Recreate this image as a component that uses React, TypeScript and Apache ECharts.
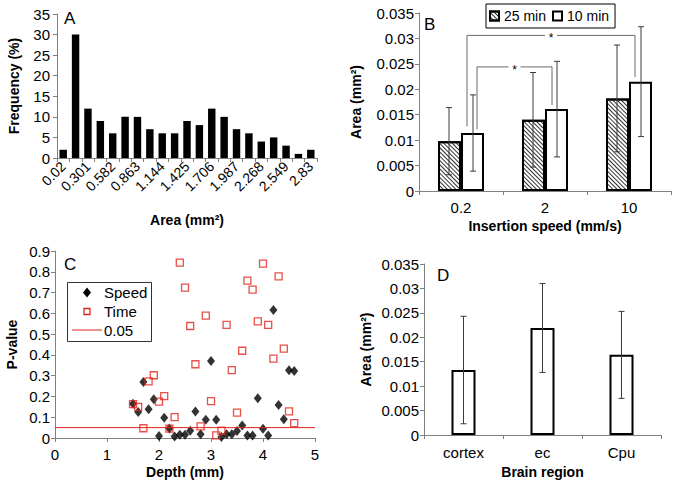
import React, { useEffect, useRef } from "react";
import * as echarts from "echarts";

// ---------- Panel A: histogram ----------
const areaBins = ["0.02", "0.161", "0.301", "0.442", "0.582", "0.723", "0.863", "1.004", "1.144", "1.285", "1.425", "1.566", "1.706", "1.847", "1.987", "2.128", "2.268", "2.409", "2.549", "2.69", "2.83"];
const frequency = [2, 30, 12, 9, 6, 10, 10, 7, 6, 6, 9, 8, 12, 10, 7, 6, 4, 5, 3, 1, 2];

// ---------- Panel B: insertion speed ----------
const speeds = ["0.2", "2", "10"];
const area25 = [0.0098, 0.014, 0.0182];
const err25 = [0.0066, 0.0093, 0.0105];
const area10 = [0.0114, 0.0161, 0.0215];
const err10 = [0.0075, 0.0094, 0.0108];

// ---------- Panel C: p-values vs depth ----------
const depths = [1.5, 1.6, 1.7, 1.8, 1.9, 2.0, 2.1, 2.2, 2.3, 2.4, 2.5, 2.6, 2.7, 2.8, 2.9, 3.0, 3.1, 3.2, 3.3, 3.4, 3.5, 3.6, 3.7, 3.8, 3.9, 4.0, 4.1, 4.2, 4.3, 4.4, 4.5, 4.6];
const pSpeed = [0.165, 0.125, 0.27, 0.138, 0.186, 0.01, 0.098, 0.046, 0.007, 0.016, 0.016, 0.035, 0.128, 0.018, 0.088, 0.37, 0.088, 0.005, 0.018, 0.018, 0.034, 0.06, 0.012, 0.012, 0.191, 0.045, 0.012, 0.616, 0.159, 0.09, 0.326, 0.322];
const pTime = [0.163, 0.15, 0.047, 0.273, 0.302, 0.175, 0.202, 0.045, 0.1, 0.844, 0.724, 0.539, 0.355, 0.056, 0.589, 0.177, 0.013, 0.035, 0.544, 0.327, 0.122, 0.42, 0.757, 0.714, 0.561, 0.839, 0.544, 0.382, 0.778, 0.43, 0.128, 0.072];
const threshold = 0.05;
const legendC = ["Speed", "Time", "0.05"];

// ---------- Panel D: brain region ----------
const regions = ["cortex", "ec", "Cpu"];
const regionArea = [0.0133, 0.0219, 0.0164];
const regionErr = [0.011, 0.0091, 0.0089];

const FONT = "'Liberation Sans', Arial, Helvetica, sans-serif";
const AXIS_COLOR = "#808080";
const RED = "#e2231a";

const axisLine = { show: true, lineStyle: { color: AXIS_COLOR, width: 1 } };
const axisTick = { show: true, length: 4, lineStyle: { color: AXIS_COLOR, width: 1 } };
const nameStyle = { fontFamily: FONT, fontSize: 14, fontWeight: "bold", color: "#000" };
const labelStyle = { fontFamily: FONT, fontSize: 15, color: "#000" };

function errorBar(offset: number) {
  return (params: any, api: any) => {
    const x = api.value(0);
    const mean = api.value(1);
    const err = api.value(2);
    const top = api.coord([x, mean + err]);
    const bot = api.coord([x, mean - err]);
    const cx = top[0] + offset;
    const cap = 3;
    const st = { stroke: "#3a3a3a", lineWidth: 1 };
    return {
      type: "group",
      children: [
        { type: "line", shape: { x1: cx, y1: top[1], x2: cx, y2: bot[1] }, style: st },
        { type: "line", shape: { x1: cx - cap, y1: top[1], x2: cx + cap, y2: top[1] }, style: st },
        { type: "line", shape: { x1: cx - cap, y1: bot[1], x2: cx + cap, y2: bot[1] }, style: st },
      ],
    };
  };
}

export default function App() {
  const ref = useRef<HTMLDivElement>(null);
  useEffect(() => {
    document.body.style.margin = "0";
    const chart = echarts.init(ref.current!, undefined, { renderer: "svg" });
    const hatch = {
      symbol: "rect",
      symbolSize: 1,
      color: "#333",
      backgroundColor: "#fff",
      dashArrayX: [1, 0],
      dashArrayY: [1, 2],
      rotation: Math.PI / 4,
    };
    const option: any = {
      animation: false,
      textStyle: { fontFamily: FONT },
      grid: [
        { left: 57, top: 14, width: 260, height: 144 },
        { left: 419, top: 13, width: 252, height: 178 },
        { left: 55, top: 251, width: 260, height: 187 },
        { left: 424, top: 264, width: 237, height: 171 },
      ],
      legend: [
        {
          data: ["25 min", "10 min"],
          left: 486,
          top: 4,
          orient: "horizontal",
          borderColor: "#000",
          borderWidth: 1,
          borderRadius: 0,
          padding: [5, 6, 5, 3],
          itemGap: 6,
          itemWidth: 9,
          itemHeight: 9,
          icon: "rect",
          textStyle: { fontFamily: FONT, fontSize: 14, color: "#000" },
        },
      ],
      xAxis: [
        {
          gridIndex: 0,
          type: "category",
          data: areaBins,
          axisLine,
          axisTick: { ...axisTick, interval: 0 },
          axisLabel: { ...labelStyle, fontSize: 14, interval: 1, rotate: 45, margin: 6 },
          name: "Area (mm²)",
          nameLocation: "middle",
          nameGap: 55,
          nameTextStyle: nameStyle,
        },
        {
          gridIndex: 1,
          type: "category",
          data: speeds,
          axisLine,
          axisTick,
          axisLabel: { ...labelStyle, margin: 9 },
          name: "Insertion speed (mm/s)",
          nameLocation: "middle",
          nameGap: 28,
          nameTextStyle: nameStyle,
        },
        {
          gridIndex: 2,
          type: "value",
          min: 0,
          max: 5,
          interval: 1,
          splitLine: { show: false },
          axisLine,
          axisTick,
          axisLabel: { ...labelStyle, margin: 9 },
          name: "Depth (mm)",
          nameLocation: "middle",
          nameGap: 27,
          nameTextStyle: nameStyle,
        },
        {
          gridIndex: 3,
          type: "category",
          data: regions,
          axisLine,
          axisTick,
          axisLabel: { ...labelStyle, margin: 10 },
          name: "Brain region",
          nameLocation: "middle",
          nameGap: 30,
          nameTextStyle: nameStyle,
        },
      ],
      yAxis: [
        {
          gridIndex: 0,
          type: "value",
          min: 0,
          max: 35,
          interval: 5,
          splitLine: { show: false },
          axisLine,
          axisTick,
          axisLabel: { ...labelStyle, margin: 7 },
          name: "Frequency (%)",
          nameLocation: "middle",
          nameGap: 36,
          nameTextStyle: nameStyle,
        },
        {
          gridIndex: 1,
          type: "value",
          min: 0,
          max: 0.035,
          interval: 0.005,
          splitLine: { show: false },
          axisLine,
          axisTick,
          axisLabel: { ...labelStyle, margin: 5 },
          name: "Area (mm²)",
          nameLocation: "middle",
          nameGap: 56,
          nameTextStyle: nameStyle,
        },
        {
          gridIndex: 2,
          type: "value",
          min: 0,
          max: 0.9,
          interval: 0.1,
          splitLine: { show: false },
          axisLine,
          axisTick,
          axisLabel: { ...labelStyle, margin: 5 },
          name: "P-value",
          nameLocation: "middle",
          nameGap: 36,
          nameTextStyle: nameStyle,
        },
        {
          gridIndex: 3,
          type: "value",
          min: 0,
          max: 0.035,
          interval: 0.005,
          splitLine: { show: false },
          axisLine,
          axisTick,
          axisLabel: { ...labelStyle, margin: 5 },
          name: "Area (mm²)",
          nameLocation: "middle",
          nameGap: 51,
          nameTextStyle: nameStyle,
        },
      ],
      series: [
        {
          name: "Frequency",
          type: "bar",
          xAxisIndex: 0,
          yAxisIndex: 0,
          data: frequency,
          barWidth: "60%",
          itemStyle: { color: "#000" },
        },
        {
          name: "25 min",
          type: "bar",
          xAxisIndex: 1,
          yAxisIndex: 1,
          data: area25,
          barWidth: 23,
          barGap: "0%",
          itemStyle: { color: "#fff", borderColor: "#000", borderWidth: 2, decal: hatch },
        },
        {
          name: "10 min",
          type: "bar",
          xAxisIndex: 1,
          yAxisIndex: 1,
          data: area10,
          barWidth: 23,
          barGap: "0%",
          itemStyle: { color: "#fff", borderColor: "#000", borderWidth: 2 },
        },
        {
          name: "err25",
          type: "custom",
          xAxisIndex: 1,
          yAxisIndex: 1,
          z: 5,
          data: area25.map((v, i) => [i, v, err25[i]]),
          renderItem: errorBar(-12),
        },
        {
          name: "err10",
          type: "custom",
          xAxisIndex: 1,
          yAxisIndex: 1,
          z: 5,
          data: area10.map((v, i) => [i, v, err10[i]]),
          renderItem: errorBar(12),
        },
        {
          name: legendC[0],
          type: "scatter",
          xAxisIndex: 2,
          yAxisIndex: 2,
          symbol: "diamond",
          symbolSize: [8, 10],
          itemStyle: { color: "#000" },
          data: depths.map((d, i) => [d, pSpeed[i]]),
        },
        {
          name: legendC[1],
          type: "scatter",
          xAxisIndex: 2,
          yAxisIndex: 2,
          symbol: "rect",
          symbolSize: 7,
          itemStyle: { color: "rgba(255,255,255,0)", borderColor: RED, borderWidth: 1.3 },
          data: depths.map((d, i) => [d, pTime[i]]),
        },
        {
          name: legendC[2],
          type: "line",
          xAxisIndex: 2,
          yAxisIndex: 2,
          symbol: "none",
          lineStyle: { color: RED, width: 1 },
          itemStyle: { color: RED },
          data: [[0, threshold], [5, threshold]],
        },
        {
          name: "Region",
          type: "bar",
          xAxisIndex: 3,
          yAxisIndex: 3,
          data: regionArea,
          barWidth: 24,
          itemStyle: { color: "#fff", borderColor: "#000", borderWidth: 2 },
        },
        {
          name: "errRegion",
          type: "custom",
          xAxisIndex: 3,
          yAxisIndex: 3,
          z: 5,
          data: regionArea.map((v, i) => [i, v, regionErr[i]]),
          renderItem: errorBar(0),
        },
      ],
    };
    chart.setOption(option);

    // significance brackets in panel B (positions from data coords)
    const px = (cat: number, v: number) =>
      chart.convertToPixel({ xAxisIndex: 1, yAxisIndex: 1 }, [cat, v]) as number[];
    const bracket = (c1: number, o1: number, y1: number, c2: number, o2: number, y2: number, yTop: number) => {
      const a = px(c1, y1);
      const t = px(c1, yTop);
      const b = px(c2, y2);
      const x1 = a[0] + o1;
      const x2 = b[0] + o2;
      const mid = (x1 + x2) / 2;
      const st = { stroke: "#6a6a6a", lineWidth: 1, fill: null };
      return [
        { type: "polyline", shape: { points: [[x1, a[1]], [x1, t[1]], [mid - 6, t[1]]] }, style: st },
        { type: "polyline", shape: { points: [[mid + 6, t[1]], [x2, t[1]], [x2, b[1]]] }, style: st },
        {
          type: "text",
          x: mid,
          y: t[1] + 3,
          style: { text: "*", fontSize: 12, fontFamily: FONT, fill: "#000", align: "center", verticalAlign: "middle" },
        },
      ];
    };
    const letter = (t: string, x: number, y: number) => ({
      type: "text",
      x,
      y,
      style: { text: t, fontSize: 17, fontFamily: FONT, fill: "#000", verticalAlign: "middle" },
    });
    // legend for panel C, drawn by hand so the symbols keep their shape
    const lx = 67;
    const ly = 282;
    const rowY = [ly + 10.5, ly + 29.5, ly + 48];
    const legendText = (t: string, y: number) => ({
      type: "text",
      x: lx + 37,
      y,
      style: { text: t, fontSize: 15, fontFamily: FONT, fill: "#000", verticalAlign: "middle" },
    });
    chart.setOption({
      graphic: [
        letter("A", 64, 18),
        letter("B", 424, 24),
        letter("C", 64, 264),
        letter("D", 437, 275),
        ...bracket(0, 6, 0.0127, 2, 6, 0.0224, 0.0306),
        ...bracket(0, 16, 0.0121, 1, 7, 0.0169, 0.0244),
        {
          type: "rect",
          shape: { x: lx + 0.5, y: ly + 0.5, width: 84, height: 59 },
          style: { fill: "#fff", stroke: "#333", lineWidth: 1 },
          z: 10,
        },
        {
          type: "polygon",
          shape: { points: [[lx + 20, rowY[0] - 5], [lx + 24, rowY[0]], [lx + 20, rowY[0] + 5], [lx + 16, rowY[0]]] },
          style: { fill: "#000" },
          z: 11,
        },
        {
          type: "rect",
          shape: { x: lx + 17, y: rowY[1] - 3, width: 6, height: 6 },
          style: { fill: "none", stroke: RED, lineWidth: 1.3 },
          z: 11,
        },
        {
          type: "line",
          shape: { x1: lx + 5, y1: rowY[2], x2: lx + 35, y2: rowY[2] },
          style: { stroke: RED, lineWidth: 1 },
          z: 11,
        },
        { ...legendText(legendC[0], rowY[0]), z: 11 },
        { ...legendText(legendC[1], rowY[1]), z: 11 },
        { ...legendText(legendC[2], rowY[2]), z: 11 },
      ],
    });
    return () => chart.dispose();
  }, []);
  return <div ref={ref} style={{ width: 675, height: 484 }} />;
}
